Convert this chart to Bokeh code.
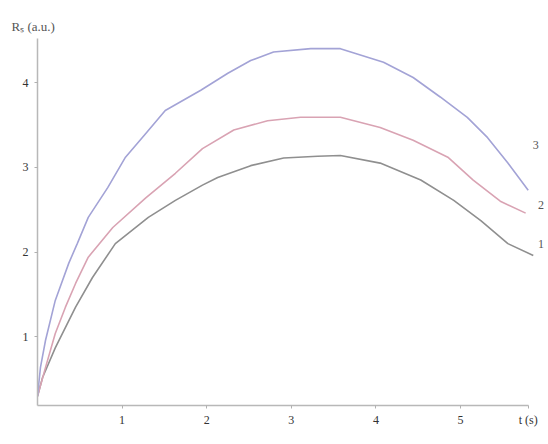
from bokeh.plotting import figure
from bokeh.models import Range1d, FixedTicker, Label
from bokeh.embed import file_html
from bokeh.resources import INLINE

# ---- data ----
t1 = [0.0, 0.06, 0.21, 0.45, 0.65, 0.92, 1.31, 1.63, 1.95, 2.13, 2.52, 2.91, 3.31, 3.58, 4.05, 4.53, 4.92, 5.24, 5.56, 5.86]
r1 = [0.30, 0.52, 0.87, 1.35, 1.70, 2.10, 2.41, 2.61, 2.79, 2.88, 3.02, 3.11, 3.13, 3.14, 3.05, 2.85, 2.61, 2.37, 2.10, 1.96]

t2 = [0.0, 0.095, 0.21, 0.33, 0.45, 0.60, 0.89, 1.28, 1.63, 1.95, 2.32, 2.72, 3.11, 3.58, 4.05, 4.44, 4.85, 5.15, 5.47, 5.77]
r2 = [0.30, 0.64, 1.04, 1.35, 1.63, 1.94, 2.29, 2.64, 2.93, 3.22, 3.44, 3.55, 3.59, 3.59, 3.47, 3.32, 3.12, 2.85, 2.60, 2.46]

t3 = [0.0, 0.035, 0.095, 0.21, 0.37, 0.47, 0.60, 0.83, 1.04, 1.28, 1.51, 1.93, 2.25, 2.52, 2.79, 3.23, 3.58, 4.09, 4.44, 4.76, 5.08, 5.32, 5.56, 5.80]
r3 = [0.30, 0.64, 0.96, 1.43, 1.87, 2.10, 2.41, 2.76, 3.12, 3.40, 3.67, 3.91, 4.11, 4.26, 4.36, 4.40, 4.40, 4.24, 4.06, 3.83, 3.59, 3.35, 3.05, 2.73]

x_ticks = [1, 2, 3, 4, 5]
y_ticks = [1, 2, 3, 4]
curve_names = ["1", "2", "3"]
x_title = "t (s)"
y_title = "Rₛ (a.u.)"
colors = ["#8f8f8f", "#d9a3b3", "#a3a3d6"]

p = figure(width=548, height=444, output_backend="svg", toolbar_location=None,
           x_range=Range1d(0, 6.04), y_range=Range1d(0.19, 4.52),
           min_border_left=37, min_border_right=0, min_border_top=38, min_border_bottom=39,
           title=y_title)
p.background_fill_color = "white"
p.border_fill_color = "white"
p.outline_line_color = None
p.xgrid.grid_line_color = None
p.ygrid.grid_line_color = None

p.title.align = "left"
p.title.offset = -26
p.title.standoff = 10
p.title.text_font = "Liberation Serif"
p.title.text_font_size = "13px"
p.title.text_font_style = "normal"
p.title.text_color = "#555555"

for ax in (p.xaxis[0], p.yaxis[0]):
    ax.axis_line_color = "#b8b8b8"
    ax.axis_line_width = 1.5
    ax.major_tick_line_color = "#b0b0b0"
    ax.major_tick_in = 0
    ax.major_tick_out = 3
    ax.minor_tick_line_color = None
    ax.major_label_text_font = "Liberation Serif"
    ax.major_label_text_font_size = "12px"
    ax.major_label_text_color = "#333333"

# x-axis title placed as the label of an extra tick at the axis end
x_title_pos = 5.8
p.xaxis[0].ticker = FixedTicker(ticks=x_ticks + [x_title_pos])
p.xaxis[0].major_label_overrides = {x_title_pos: x_title}
p.xaxis[0].bounds = (0, x_title_pos)
p.xaxis[0].major_label_standoff = 4
p.yaxis[0].ticker = FixedTicker(ticks=y_ticks)
p.yaxis[0].major_label_standoff = 6

for t, r, c in zip([t1, t2, t3], [r1, r2, r3], colors):
    p.line(t, r, line_color=c, line_width=1.6)

# curve labels
lab_pos = [(5.95, 2.10), (5.95, 2.55), (5.89, 3.26)]
for name, (lx, ly) in zip(curve_names, lab_pos):
    p.add_layout(Label(x=lx, y=ly, text=name, text_font="Liberation Serif",
                       text_font_size="12px", text_color="#555555",
                       text_align="center", text_baseline="middle"))

open("out.html", "w").write(file_html(p, INLINE))
